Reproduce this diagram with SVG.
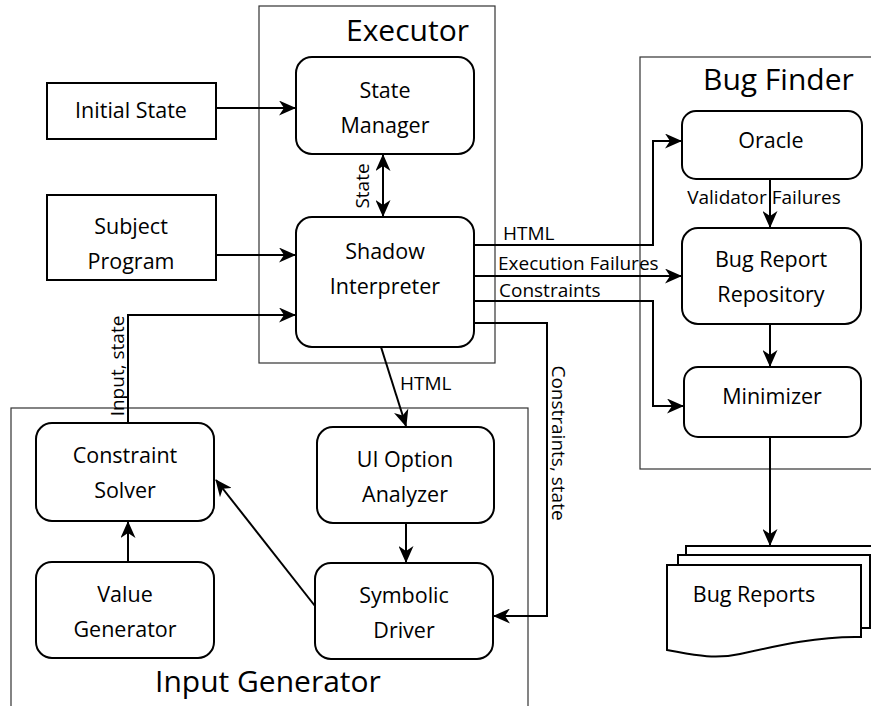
<svg xmlns="http://www.w3.org/2000/svg" width="871" height="706" viewBox="0 0 871 706">
  <style>
    .frame { fill: none; stroke: #333; stroke-width: 1.2; }
    .box { fill: #fff; stroke: #000; stroke-width: 2; }
    .line { fill: none; stroke: #000; stroke-width: 2; }
    text { font-family: "Open Sans", "Noto Sans", sans-serif; fill: #000; }
    .node { font-size: 21.5px; text-anchor: middle; }
    .title { font-size: 30px; }
    .label { font-size: 19px; }
  </style>
  <defs>
    <marker id="arrow" viewBox="0 0 17 15" refX="16" refY="7.5" markerWidth="17" markerHeight="15" markerUnits="userSpaceOnUse" orient="auto-start-reverse">
      <path d="M0,0 L17,7.5 L0,15 L5,7.5 Z" fill="#000"/>
    </marker>
  </defs>

  <rect width="871" height="706" fill="#fff"/>

  <!-- Containers -->
  <g id="executor">
    <rect class="frame" x="259" y="6" width="236" height="357"/>
    <text class="title" x="346" y="41">Executor</text>
  </g>
  <g id="bug-finder">
    <rect class="frame" x="640" y="57" width="240" height="412"/>
    <text class="title" x="703" y="90">Bug Finder</text>
  </g>
  <g id="input-generator">
    <rect class="frame" x="11" y="408" width="517" height="310"/>
    <text class="title" x="155" y="692">Input Generator</text>
  </g>

  <!-- Connectors -->
  <g id="connectors">
    <line class="line" x1="216" y1="108" x2="295" y2="108" marker-end="url(#arrow)"/>
    <line class="line" x1="216" y1="255" x2="295" y2="255" marker-end="url(#arrow)"/>
    <polyline class="line" points="128,423 128,315 295,315" marker-end="url(#arrow)"/>
    <line class="line" x1="383" y1="155" x2="383" y2="216" marker-start="url(#arrow)" marker-end="url(#arrow)"/>
    <polyline class="line" points="474,245 653,245 653,141 681,141" marker-end="url(#arrow)"/>
    <line class="line" x1="474" y1="276" x2="681" y2="276" marker-end="url(#arrow)"/>
    <polyline class="line" points="474,301 653,301 653,406 683,406" marker-end="url(#arrow)"/>
    <polyline class="line" points="474,323 547,323 547,616 494,616" marker-end="url(#arrow)"/>
    <line class="line" x1="381" y1="347" x2="406" y2="426" marker-end="url(#arrow)"/>
    <line class="line" x1="406" y1="523" x2="406" y2="562" marker-end="url(#arrow)"/>
    <line class="line" x1="128" y1="562" x2="128" y2="522" marker-end="url(#arrow)"/>
    <line class="line" x1="315" y1="606" x2="216" y2="480" marker-end="url(#arrow)"/>
    <line class="line" x1="770" y1="179" x2="770" y2="227" marker-end="url(#arrow)"/>
    <line class="line" x1="770" y1="324" x2="770" y2="366" marker-end="url(#arrow)"/>
    <line class="line" x1="770" y1="437" x2="770" y2="545" marker-end="url(#arrow)"/>

    <text class="label" x="0" y="0" transform="translate(369,186) rotate(-90)" text-anchor="middle">State</text>
    <text class="label" x="0" y="0" transform="translate(124,366) rotate(-90)" text-anchor="middle">Input, state</text>
    <text class="label" x="0" y="0" transform="translate(552,443) rotate(90)" text-anchor="middle">Constraints, state</text>
    <text class="label" x="503" y="240">HTML</text>
    <text class="label" x="498" y="270">Execution Failures</text>
    <text class="label" x="499" y="297">Constraints</text>
    <text class="label" x="400" y="390">HTML</text>
    <text class="label" x="764" y="204" text-anchor="middle">Validator Failures</text>
  </g>

  <!-- Nodes -->
  <g id="initial-state">
    <rect class="box" x="47" y="83" width="169" height="56"/>
    <text class="node" x="131" y="118">Initial State</text>
  </g>
  <g id="subject-program">
    <rect class="box" x="47" y="195" width="169" height="85"/>
    <text class="node" x="131" y="234">Subject</text>
    <text class="node" x="131" y="269">Program</text>
  </g>
  <g id="state-manager">
    <rect class="box" x="296" y="57" width="178" height="97" rx="16"/>
    <text class="node" x="385" y="98">State</text>
    <text class="node" x="385" y="133">Manager</text>
  </g>
  <g id="shadow-interpreter">
    <rect class="box" x="296" y="217" width="178" height="130" rx="16"/>
    <text class="node" x="385" y="259">Shadow</text>
    <text class="node" x="385" y="294">Interpreter</text>
  </g>
  <g id="oracle">
    <rect class="box" x="682" y="111" width="180" height="68" rx="14"/>
    <text class="node" x="771" y="148">Oracle</text>
  </g>
  <g id="bug-report-repository">
    <rect class="box" x="682" y="228" width="179" height="96" rx="16"/>
    <text class="node" x="771" y="267">Bug Report</text>
    <text class="node" x="771" y="302">Repository</text>
  </g>
  <g id="minimizer">
    <rect class="box" x="684" y="367" width="177" height="70" rx="14"/>
    <text class="node" x="772" y="404">Minimizer</text>
  </g>
  <g id="constraint-solver">
    <rect class="box" x="36" y="423" width="178" height="98" rx="16"/>
    <text class="node" x="125" y="463">Constraint</text>
    <text class="node" x="125" y="498">Solver</text>
  </g>
  <g id="value-generator">
    <rect class="box" x="36" y="562" width="178" height="96" rx="16"/>
    <text class="node" x="125" y="602">Value</text>
    <text class="node" x="125" y="637">Generator</text>
  </g>
  <g id="ui-option-analyzer">
    <rect class="box" x="317" y="427" width="177" height="96" rx="16"/>
    <text class="node" x="405" y="467">UI Option</text>
    <text class="node" x="405" y="502">Analyzer</text>
  </g>
  <g id="symbolic-driver">
    <rect class="box" x="315" y="563" width="178" height="96" rx="16"/>
    <text class="node" x="404" y="603">Symbolic</text>
    <text class="node" x="404" y="638">Driver</text>
  </g>
  <g id="bug-reports">
    <path class="box" d="M686,555 L686,546 L880,546"/>
    <path class="box" d="M678,565 L678,555 L870,555 L870,628 L861,628"/>
    <path class="box" d="M667,565 L861,565 L861,637 C820,636 780,645 740,654 C712,660 690,654 667,650 Z"/>
    <text class="node" x="754" y="602">Bug Reports</text>
  </g>
</svg>
